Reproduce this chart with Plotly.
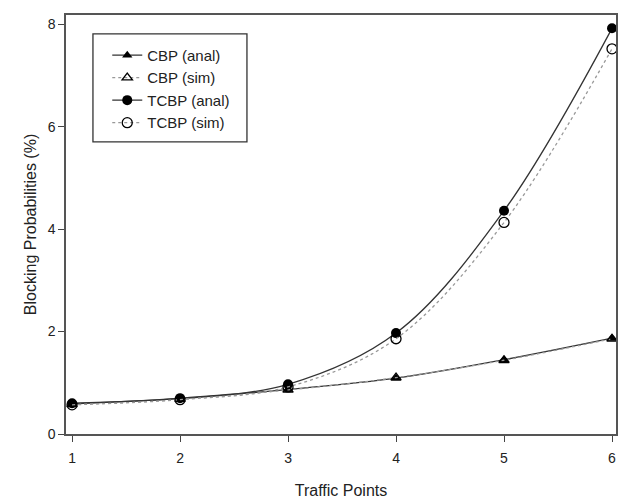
import plotly.graph_objects as go

x = [1, 2, 3, 4, 5, 6]
cbp_anal = [0.59, 0.69, 0.87, 1.09, 1.45, 1.87]
cbp_sim = [0.58, 0.68, 0.86, 1.10, 1.44, 1.86]
tcbp_anal = [0.60, 0.70, 0.97, 1.97, 4.36, 7.92]
tcbp_sim = [0.57, 0.67, 0.92, 1.86, 4.13, 7.52]

fig = go.Figure()
fig.add_trace(go.Scatter(x=x, y=cbp_anal, name="CBP (anal)", mode="lines+markers",
                         line=dict(color="#333333", width=1.3, shape="spline"),
                         marker=dict(symbol="triangle-up", size=9, color="black")))
fig.add_trace(go.Scatter(x=x, y=cbp_sim, name="CBP (sim)", mode="lines+markers",
                         line=dict(color="#999999", width=1.3, dash="dot", shape="spline"),
                         marker=dict(symbol="triangle-up-open", size=9, color="black", line=dict(width=1.3))))
fig.add_trace(go.Scatter(x=x, y=tcbp_anal, name="TCBP (anal)", mode="lines+markers",
                         line=dict(color="#333333", width=1.3, shape="spline"),
                         marker=dict(symbol="circle", size=10, color="black")))
fig.add_trace(go.Scatter(x=x, y=tcbp_sim, name="TCBP (sim)", mode="lines+markers",
                         line=dict(color="#999999", width=1.3, dash="dot", shape="spline"),
                         marker=dict(symbol="circle-open", size=10, color="black", line=dict(width=1.3))))

font = "Liberation Sans, Arial, sans-serif"
fig.add_shape(type="rect", xref="x domain", yref="y domain",
              x0=0.049, x1=0.329, y0=0.697, y1=0.955,
              line=dict(color="#333333", width=1.3), fillcolor="rgba(0,0,0,0)", layer="above")
fig.update_layout(
    width=619, height=501,
    margin=dict(l=66, r=3, t=15, b=67, autoexpand=False),
    paper_bgcolor="white", plot_bgcolor="white",
    font=dict(family=font, size=14, color="#222222"),
    showlegend=True,
    legend=dict(x=0.075, y=0.943, xanchor="left", yanchor="top",
                borderwidth=0, bgcolor="rgba(0,0,0,0)",
                font=dict(size=15, family=font), tracegroupgap=0),
    xaxis=dict(range=[0.944, 6.037], tickvals=x, ticks="outside", ticklen=6,
               tickcolor="#444444", showline=True, linecolor="#555555", linewidth=1.5,
               mirror=True, showgrid=False, zeroline=False, automargin=False,
               ticklabelstandoff=4,
               title=dict(text="Traffic Points", font=dict(size=16), standoff=20),
               tickfont=dict(size=14)),
    yaxis=dict(range=[0, 8.18], tickvals=[0, 2, 4, 6, 8], ticks="outside", ticklen=6,
               tickcolor="#444444", showline=True, linecolor="#555555", linewidth=1.5,
               mirror=True, showgrid=False, zeroline=False, automargin=False,
               title=dict(text="Blocking Probabilities (%)", font=dict(size=16), standoff=7),
               tickfont=dict(size=14)),
)

fig.write_html("out.html", config={"displayModeBar": False},
               post_script="document.body.style.margin='0';document.body.style.overflow='hidden';")
